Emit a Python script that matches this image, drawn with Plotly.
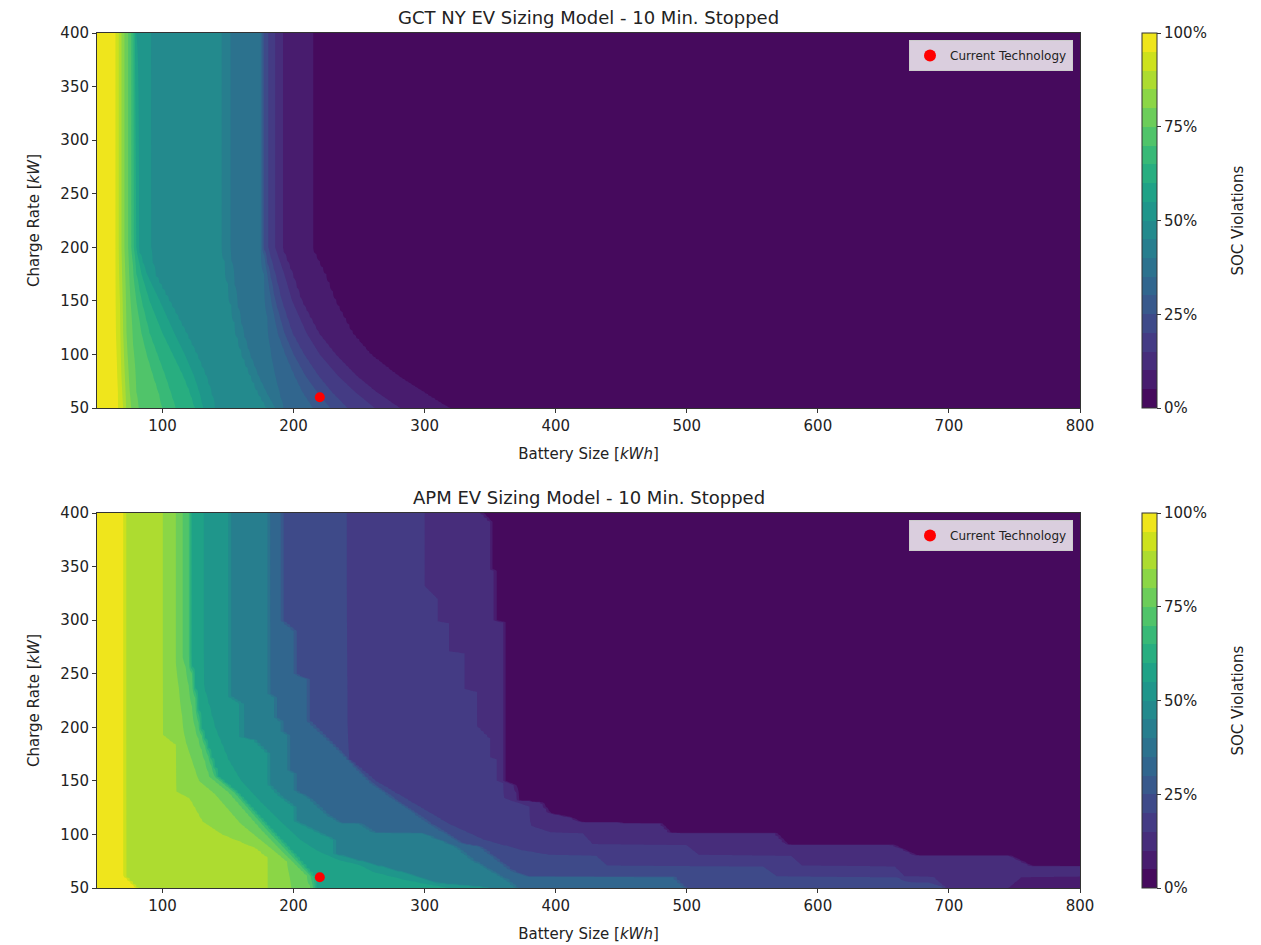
import numpy as np
import plotly.graph_objects as go

# ---------------- data ----------------
# thresholds of SOC violations (%), from highest to lowest
levels = [95, 90, 85, 80, 75, 70, 65, 60, 55, 50, 45, 40, 35, 30, 25, 20, 15, 10, 5]

# GCT NY: battery size (kWh) where the violation share falls below each level,
# read at these charge rates (kW)
gct_rates = [50, 65, 80, 100, 120, 150, 175, 200, 400]
gct_sizes = [
    [66, 66, 65.5, 65, 64.5, 64.3, 64.3, 64.3, 64.3],
    [70, 69.5, 69, 68.5, 68, 67.5, 67, 66.8, 66.8],
    [72, 71.5, 71, 70.5, 70, 69.5, 69, 68.5, 68.5],
    [76, 75, 74, 73, 72.5, 72, 71.5, 70.8, 70.8],
    [81, 80, 79, 78, 77, 75.5, 74.5, 73.9, 73.9],
    [100, 97, 93, 88, 84, 80, 78, 76.5, 76.5],
    [110, 106, 102, 96, 90, 84, 80, 78, 78],
    [125, 121, 116, 108, 100, 90, 84, 80, 79.5],
    [131, 128, 124, 117, 109, 98, 88, 81, 80],
    [140, 137, 133, 126, 118, 105, 94, 90.4, 90.4],
    [180, 173, 167.5, 161, 156.5, 152, 149, 146, 146],
    [186, 179, 173, 166.5, 161.5, 156.5, 154, 151, 151],
    [192, 189, 186, 183, 181, 179, 177.5, 176, 176],
    [215, 207, 201, 194, 188, 183, 180, 176.5, 176.5],
    [228, 218, 209, 200, 193, 186, 182, 177, 177],
    [241, 229, 219, 208, 199, 191, 186, 180.5, 180.5],
    [262, 247, 234, 220, 210, 199, 193, 186, 186],
    [281, 263, 248, 232, 219, 206, 199, 191, 191],
    [320, 300, 281, 260, 246, 233, 225, 215, 215],
]

# APM: boundary vertices (charge rate kW, battery size kWh) for each level
apm_edges = [
    [(400, 70), (62, 70), (50, 80)],
    [(400, 70.3), (62, 70.3), (50, 80.3)],
    [(400, 100.6), (193, 100.6), (183.5, 110.8), (140, 110.8), (133.7, 121), (112, 131), (100, 146), (87, 172), (78, 181), (50, 181)],
    [(400, 110.3), (260, 110.3), (200, 116), (185, 118), (150, 128), (138, 140), (110, 160), (90, 180), (75, 195), (50, 198.5)],
    [(400, 115.4), (265, 115.4), (255, 118), (200, 125), (154, 136), (139, 151), (104, 176), (82, 193), (61, 211), (50, 213)],
    [(400, 120.4), (270, 120.4), (200, 128), (154, 140), (139, 155), (104, 180), (82, 197), (61, 213), (50, 215)],
    [(400, 120.6), (270, 120.6), (200, 129), (154, 142), (139, 157), (104, 183), (82, 200), (61, 215), (50, 217)],
    [(400, 120.8), (270, 120.8), (200, 129.5), (154, 142.5), (139, 157.5), (104, 183.5), (82, 200.5), (61, 215.5), (50, 217.5)],
    [(400, 131.1), (240, 131.1), (200, 140), (170, 150), (150, 160), (130, 175), (110, 192), (95, 205), (85, 218), (76, 235), (71.5, 251), (65, 261), (57.5, 286), (50, 319)],
    [(400, 151), (229, 151), (222, 159.9), (191, 159.9), (188, 170.1), (176, 180.2), (148, 180.2), (135, 190.4), (126, 200.5), (113, 200.5), (107, 210.5), (101, 220.5), (95, 231.1), (82, 231.1), (76, 249.5), (65, 282.5), (54.4, 311.2), (51, 344.5), (50, 349.5)],
    [(400, 151.5), (229, 151.5), (222, 160.4), (191, 160.4), (188, 170.6), (176, 180.7), (148, 180.7), (135, 190.9), (126, 201), (113, 201), (107, 211), (101, 221), (95, 231.6), (82, 231.6), (76, 250), (65, 283), (54.4, 311.7), (51, 345), (50, 350)],
    [(400, 180.7), (232, 180.7), (228, 185.8), (210, 185.8), (205, 190.9), (197, 191), (192, 196), (160, 196), (157, 201), (141, 201), (135, 211), (118, 226), (110.4, 236.7), (110, 251), (102, 261), (101, 299), (88.5, 324), (76, 337), (57.5, 363), (50, 370)],
    [(400, 181.2), (232, 181.2), (228, 186.3), (210, 186.3), (205, 191.4), (197, 191.5), (192, 196.5), (160, 196.5), (157, 201.5), (141, 201.5), (135, 211.5), (118, 226.5), (110.4, 237.2), (110, 251.5), (102, 261.5), (101, 299.5), (88.5, 324.5), (76, 337.5), (57.5, 363.5), (50, 370.5)],
    [(400, 190.9), (300, 190.9), (290, 200.5), (250, 200.5), (245, 210.5), (207, 210.5), (172.5, 240), (150, 257.5), (131.7, 278.5), (110, 304.5), (91.7, 328.5), (88.5, 342.5), (66.8, 365.5), (61, 377.5), (60.6, 489.5), (51, 497.5), (50, 499.5)],
    [(400, 191.4), (300, 191.4), (290, 201), (250, 201), (245, 211), (207, 211), (172.5, 240.5), (150, 258), (131.7, 279), (110, 305), (91.7, 329), (88.5, 343), (66.8, 366), (61, 378), (60.6, 490), (51, 498), (50, 500)],
    [(400, 240.5), (172, 240.5), (150, 262), (130, 290), (110, 318), (95, 345), (85, 375), (81, 395), (80.8, 430), (71, 439), (70.5, 558), (61, 569), (60.5, 660), (56, 668), (55.5, 686), (51, 696), (50, 697)],
    [(400, 300), (332, 300), (320, 310), (299, 310), (297, 319), (271, 319), (269, 331), (236, 331), (233, 340), (202, 340), (190, 350), (172, 350), (170, 355), (150, 355), (148, 360), (134, 362), (131, 368), (126, 380), (108, 381), (102, 396), (101.6, 420), (91, 428), (90.8, 499), (81, 509), (80.8, 579), (70.8, 588), (70.5, 658), (61, 666), (60.5, 688), (51, 696), (50, 697)],
    [(400, 343.5), (392, 350), (348, 350), (346, 354), (300, 354), (298, 360), (150, 360), (146, 369), (132, 371), (130, 389), (120, 395), (116, 411), (111.5, 419), (110.5, 480), (101.6, 487), (101, 568), (91, 576), (90.5, 657), (81, 674), (80.5, 746), (70.5, 763), (70, 900), (62, 900), (60, 755), (50, 745)],
    [(400, 345), (392, 351), (348, 351), (346, 355), (300, 355), (298, 361), (150, 361), (146, 370), (132, 372), (130, 390), (120, 396), (116, 412), (111.5, 420), (110.5, 481), (101.6, 488), (101, 569), (91, 577), (90.5, 658), (81, 675), (80.5, 747), (70.5, 764), (70, 900), (50, 900)],
]

current_size = [220]
current_rate = [60]

x_ticks = [100, 200, 300, 400, 500, 600, 700, 800]
y_ticks = [50, 100, 150, 200, 250, 300, 350, 400]
cb_ticks = [0, 25, 50, 75, 100]
cb_labels = ["0%", "25%", "50%", "75%", "100%"]

# ---------------- styling ----------------
band_colors = ['#460a5d', '#481c6e', '#472d7b', '#443b84', '#3e4a89', '#38598c',
               '#31668e', '#2c728e', '#277e8e', '#238a8d', '#1f968b', '#1fa287',
               '#28ae80', '#38b977', '#50c46a', '#6ccd5a', '#8bd646', '#addc30',
               '#cde11d', '#efe51c']
# colour map used by the filled contours (band i evaluated at (i+1)/21)
contour_cs = [[0.0, band_colors[0]]]
for i, c in enumerate(band_colors):
    contour_cs.append([(5 + 5 * i) / 105.0, c])
contour_cs.append([1.0, band_colors[-1]])
# stepped colour map for the colour bars (0..100 in 20 bands)
bar_cs = []
for i, c in enumerate(band_colors):
    bar_cs.append([i / 20.0, c])
    bar_cs.append([(i + 1) / 20.0, c])

FONT = "DejaVu Sans"
TXT = "#222222"
xs = np.arange(50, 800.001, 2.5)
ys = np.arange(50, 400.001, 1.0)


def build_grid(edge_list):
    Z = np.zeros((len(ys), len(xs)))
    prepared = []
    for e in edge_list:
        r = np.array([p[0] for p in e], dtype=float)
        s = np.array([p[1] for p in e], dtype=float)
        o = np.argsort(r)
        prepared.append((r[o], s[o]))
    fp = np.array([99.0] + [float(v) for v in levels] + [1.0])
    for j, y in enumerate(ys):
        pos = np.array([np.interp(y, r, s) for r, s in prepared])
        pos = np.maximum.accumulate(pos)
        xp = np.concatenate([[pos[0] - 3], pos, [pos[-1] + 3]])
        xp = xp + np.arange(len(xp)) * 1e-6
        Z[j] = np.interp(xs, xp, fp)
    return Z


gct_edges = [list(zip(gct_rates, row)) for row in gct_sizes]
Z_top = build_grid(gct_edges)
Z_bot = build_grid(apm_edges)

# page body has an 8 px margin: plot areas at x 97-1080, y 33-408 / 513-888
ML, MT, MR, MB = 89, 25, 189, 65
PH = 855.0
top_dom = [(888 - 408) / PH, 1.0]
bot_dom = [0.0, (888 - 513) / PH]
cb_len = bot_dom[1]
CB_X = (1142 - 97) / 983.0


def cbar(y, yanchor):
    return dict(
        x=CB_X, xanchor="left", xpad=0, ypad=0,
        y=y, yanchor=yanchor, len=cb_len, lenmode="fraction",
        thickness=15, outlinecolor="#333", outlinewidth=1,
        tickvals=cb_ticks, ticktext=cb_labels, ticks="outside", ticklen=4,
        tickcolor="#333", tickfont=dict(family=FONT, size=15, color=TXT),
    )


contours = dict(start=0, end=100, size=5, coloring="fill", showlines=False)

fig = go.Figure()
fig.add_trace(go.Contour(x=xs, y=ys, z=Z_top, contours=contours, autocontour=False,
                         colorscale=contour_cs, line=dict(width=0, smoothing=0),
                         showscale=False, showlegend=False,
                         hoverinfo="skip", xaxis="x", yaxis="y"))
fig.add_trace(go.Contour(x=xs, y=ys, z=Z_bot, contours=contours, autocontour=False,
                         colorscale=contour_cs, line=dict(width=0, smoothing=0),
                         showscale=False, showlegend=False,
                         hoverinfo="skip", xaxis="x2", yaxis="y2"))
# colour bars
fig.add_trace(go.Scatter(x=[None], y=[None], mode="markers", showlegend=False, hoverinfo="skip",
                         marker=dict(color=[50], colorscale=bar_cs, cmin=0, cmax=100,
                                     showscale=True, colorbar=cbar(1.0, "top")),
                         xaxis="x", yaxis="y"))
fig.add_trace(go.Scatter(x=[None], y=[None], mode="markers", showlegend=False, hoverinfo="skip",
                         marker=dict(color=[50], colorscale=bar_cs, cmin=0, cmax=100,
                                     showscale=True, colorbar=cbar(0.0, "bottom")),
                         xaxis="x2", yaxis="y2"))
# current technology marker
fig.add_trace(go.Scatter(x=current_size, y=current_rate, mode="markers",
                         marker=dict(color="red", size=10), name="Current Technology",
                         showlegend=True, xaxis="x", yaxis="y", legend="legend"))
fig.add_trace(go.Scatter(x=current_size, y=current_rate, mode="markers",
                         marker=dict(color="red", size=10), name="Current Technology",
                         showlegend=True, xaxis="x2", yaxis="y2", legend="legend2"))

axis_common = dict(showgrid=False, zeroline=False, showline=True, mirror=True,
                   linecolor="#333", linewidth=1, ticks="outside", ticklen=4,
                   tickcolor="#333", tickfont=dict(family=FONT, size=15, color=TXT))

xt = dict(text="Battery Size [<i>kWh</i>]", font=dict(family=FONT, size=15, color=TXT), standoff=14)
yt = dict(text="Charge Rate [<i>kW</i>]", font=dict(family=FONT, size=15, color=TXT), standoff=17)

legend_common = dict(bgcolor="rgba(255,255,255,0.8)", bordercolor="#cccccc", borderwidth=1,
                     font=dict(family=FONT, size=12, color=TXT), visible=True,
                     xanchor="right", yanchor="top", x=(1073 - 97) / 983.0, itemsizing="constant")

fig.update_layout(
    width=1261, height=945,
    margin=dict(l=ML, r=MR, t=MT, b=MB),
    paper_bgcolor="white", plot_bgcolor="white",
    font=dict(family=FONT, color=TXT),
    showlegend=True,
    xaxis=dict(domain=[0, 1], range=[50, 800], tickvals=x_ticks, anchor="y",
               title=xt, **axis_common),
    yaxis=dict(domain=top_dom, range=[50, 400], tickvals=y_ticks, anchor="x",
               title=yt, **axis_common),
    xaxis2=dict(domain=[0, 1], range=[50, 800], tickvals=x_ticks, anchor="y2",
                title=xt, **axis_common),
    yaxis2=dict(domain=bot_dom, range=[50, 400], tickvals=y_ticks, anchor="x2",
                title=yt, **axis_common),
    legend=dict(y=(888 - 40) / PH, **legend_common),
    legend2=dict(y=(888 - 520) / PH, **legend_common),
    annotations=[
        dict(text="GCT NY EV Sizing Model - 10 Min. Stopped", x=0.5, y=1.0,
             xref="paper", yref="paper", xanchor="center", yanchor="bottom",
             yshift=3, showarrow=False, font=dict(family=FONT, size=18, color=TXT)),
        dict(text="APM EV Sizing Model - 10 Min. Stopped", x=0.5, y=bot_dom[1],
             xref="paper", yref="paper", xanchor="center", yanchor="bottom",
             yshift=3, showarrow=False, font=dict(family=FONT, size=18, color=TXT)),
        dict(text="SOC Violations", x=(1237 - 97) / 983.0, y=(top_dom[0] + top_dom[1]) / 2,
             xref="paper", yref="paper", xanchor="center", yanchor="middle", textangle=-90,
             showarrow=False, font=dict(family=FONT, size=15, color=TXT)),
        dict(text="SOC Violations", x=(1237 - 97) / 983.0, y=(bot_dom[0] + bot_dom[1]) / 2,
             xref="paper", yref="paper", xanchor="center", yanchor="middle", textangle=-90,
             showarrow=False, font=dict(family=FONT, size=15, color=TXT)),
    ],
)

fig.write_html("out.html")
